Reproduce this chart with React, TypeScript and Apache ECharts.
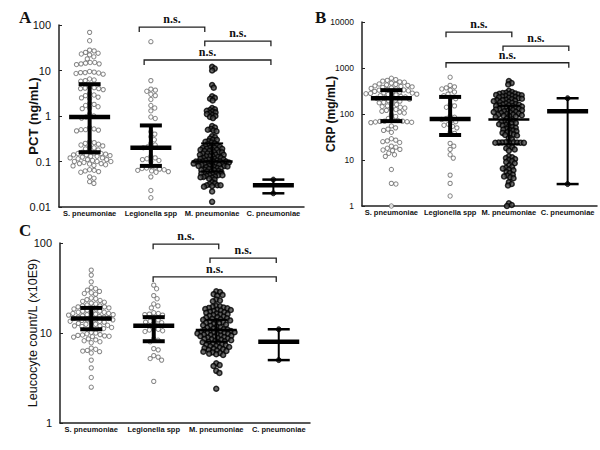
import React, { useEffect, useRef } from 'react';
import * as echarts from 'echarts';

const CATEGORIES = ['S. pneumoniae', 'Legionella spp', 'M. pneumoniae', 'C. pneumoniae'];

// ---------- Panel A: PCT (ng/mL) ----------
const PCT_S = [69, 45, 28, 27, 25, 24, 23, 22, 20, 18, 15, 15, 14.5, 14, 14, 13.5, 9.5, 9.2, 9, 9, 8.8, 8.6, 8.3,
  6.5, 6.2, 6, 5.8, 4.3, 4.2, 4.1, 4, 4, 3.8, 3.1, 2.9, 2.8, 2.6, 2.5, 2.4, 1.9, 1.8, 1.7, 1.6, 1.5, 1.45,
  1.1, 1.0, 0.95, 0.9, 0.56, 0.52, 0.5, 0.5, 0.49, 0.47, 0.27, 0.26, 0.25, 0.24, 0.23, 0.22, 0.21, 0.2, 0.19, 0.18,
  0.165, 0.16, 0.155, 0.15, 0.15, 0.145, 0.14, 0.14, 0.135, 0.13, 0.13, 0.125, 0.12, 0.12, 0.115, 0.11, 0.11,
  0.105, 0.1, 0.1, 0.1, 0.095, 0.09, 0.09, 0.088, 0.085, 0.082, 0.08, 0.066, 0.064, 0.062, 0.06, 0.058,
  0.046, 0.043, 0.036, 0.033];
const PCT_L = [43, 6, 3.9, 3.7, 3.5, 3.0, 2.8, 2.3, 1.7, 1.5, 1.3, 0.95, 0.88, 0.45, 0.4, 0.35, 0.3, 0.25, 0.23,
  0.21, 0.2, 0.13, 0.12, 0.115, 0.11, 0.105, 0.1, 0.078, 0.075, 0.072, 0.07, 0.068, 0.066, 0.064, 0.062, 0.06,
  0.058, 0.046, 0.023, 0.016];
const PCT_M = [12, 11, 10, 4.8, 4.2, 2.7, 2.5, 2.4, 2.2,
  1.5, 1.4, 1.35, 1.3, 1.25, 1.2, 1.15, 1.1, 1.05, 1.0, 0.95, 0.9,
  0.6, 0.56, 0.52, 0.5, 0.48, 0.46, 0.36, 0.34, 0.32, 0.3, 0.3, 0.28, 0.27, 0.26,
  0.25, 0.24, 0.23, 0.22, 0.22, 0.21, 0.2, 0.2, 0.2, 0.19, 0.19, 0.18, 0.18, 0.18, 0.17, 0.17, 0.16, 0.16, 0.16,
  0.15, 0.15, 0.15, 0.14, 0.14, 0.14, 0.13, 0.13, 0.13, 0.125, 0.12,
  0.12, 0.115, 0.115, 0.11, 0.11, 0.11, 0.105, 0.105, 0.1, 0.1, 0.1, 0.1, 0.1, 0.098, 0.095, 0.095, 0.092, 0.09,
  0.09, 0.09, 0.088, 0.085, 0.085, 0.082, 0.08, 0.08, 0.08, 0.078, 0.075, 0.075, 0.072, 0.07, 0.07, 0.068, 0.066,
  0.065, 0.064, 0.062, 0.06, 0.06,
  0.058, 0.056, 0.055, 0.054, 0.052, 0.05, 0.05, 0.05, 0.048, 0.047, 0.046, 0.045, 0.044, 0.042, 0.04,
  0.035, 0.033, 0.032, 0.03, 0.03, 0.03, 0.029, 0.028, 0.022, 0.013];
const PCT_C = [0.04, 0.02];
// median, lower, upper
const PCT_STATS = [[0.95, 0.16, 5.0], [0.2, 0.08, 0.62], [0.1, 0.06, 0.25], [0.03, 0.02, 0.04]];
// from, to (category axis units), y value
const PCT_BRACKETS = [[1.31, 2.38, 90], [2.38, 3.46, 44], [1.39, 3.46, 17]];

// ---------- Panel B: CRP (mg/mL) ----------
const CRP_S = [600, 560, 540, 520, 500, 490, 470, 450, 440, 430, 420, 410,
  400, 390, 380, 370, 360, 350, 340, 335, 330, 320, 310, 300, 295, 290, 285, 280, 275, 270, 265, 260,
  250, 240, 235, 230, 225, 220, 210, 200, 195, 190, 180, 175,
  165, 160, 150, 145, 140, 135, 130, 125, 120, 115, 110, 105,
  95, 88, 80, 74, 72, 70, 70, 69, 68, 67, 66, 65,
  55, 50, 47, 44, 40, 29, 27, 26, 25, 24, 20, 19, 18, 17, 16.5, 16, 14, 13, 12, 6.2, 3.1, 3.0, 1.0];
const CRP_L = [630, 420, 390, 370, 350, 330, 300, 270, 250, 230, 215, 160, 150, 140, 90, 85, 80, 76, 72, 68,
  60, 57, 54, 50, 40, 38, 23, 20, 17, 13, 11, 4.7, 3.1, 1.65];
const CRP_M = [520, 470, 440,
  320, 300, 290, 285, 280, 275, 270, 265, 260, 255, 250, 245, 240, 235, 230,
  225, 220, 215, 210, 205, 200, 200, 195, 190, 185, 180, 175, 170, 165, 160, 158, 155, 152, 150, 148,
  145, 140, 138, 135, 132, 130, 128, 125, 122, 120, 118, 115, 112, 110, 108, 105, 102, 100, 98, 96, 94, 92, 90, 88, 86,
  80, 76, 72, 70, 68, 66, 64, 62, 60, 58, 56, 54, 52, 50, 48, 46, 45, 44, 42, 40, 39, 38, 36, 35, 34,
  30, 28, 24.4, 24.3, 24.2, 24.1, 24, 23.9, 23.8, 23.7, 23.6,
  20, 19, 18, 17, 16, 12, 11.5, 11, 10.5, 10, 9.5, 9, 8.5,
  7.5, 7, 6.8, 6.5, 6.2, 6, 5.5, 5.2, 4.8, 4.6, 4.4, 4.2, 4.0, 3.3, 3.0, 2.8, 1.15, 1.05, 1.0];
const CRP_C = [220, 3];
const CRP_STATS = [[220, 70, 330], [78, 35, 235], [76, 22, 150], [115, 3, 220]];
const CRP_BRACKETS = [[1.43, 2.55, 6000], [2.4, 3.52, 3000], [1.43, 3.52, 1300]];

// ---------- Panel C: Leucocyte count ----------
const WBC_S = [50, 44, 37, 32, 31, 30, 29, 28, 27.5, 27,
  24.5, 24, 23.5, 23, 22.5, 22, 21.5, 21,
  20.5, 20, 20, 19.5, 19.5, 19, 19, 18.5, 18.5, 18,
  17.5, 17.5, 17, 17, 16.8, 16.5, 16.5, 16.2, 16, 16, 15.8, 15.5,
  15.2, 15, 15, 14.8, 14.5, 14.5, 14.2, 14, 14, 13.8, 13.5, 13.5, 13.2, 13,
  12.8, 12.5, 12.5, 12.2, 12, 12, 11.8, 11.5, 11.5, 11.2,
  10.2, 10, 9.8, 9.6, 9.5, 9.4, 9.3, 9.2, 9.1, 9,
  8.6, 8.4, 8.2, 8, 7.8, 6.8, 6.6, 6.4, 6.3, 6.2, 6, 5, 4.1, 3.2, 2.5];
const WBC_L = [34, 31, 26, 24, 21, 20, 19, 16.8, 16.5, 16.2, 16, 15.8, 14.5, 14, 13.5, 13.2, 13, 12.8,
  11.2, 11, 10.8, 10.6, 10.4, 8.6, 8.3, 8, 6.7, 6.5, 5.6, 5.4, 5.2, 5, 2.9];
const WBC_M = [29, 28.5, 27, 26.5, 26, 23.5, 23, 22.5,
  20, 19.8, 19.5, 19.2, 19, 18.8, 18.5, 18.2, 18, 17.8, 17.5, 17.2, 17, 16.8, 16.5, 16.2, 16, 15.8, 15.5, 15.2, 15,
  14.8, 14.6, 14.4, 14.2, 14, 13.8, 13.6, 13.4, 13.2, 13, 12.8, 12.6, 12.4, 12.2, 12, 11.8, 11.6, 11.4, 11.2, 11,
  10.9, 10.8, 10.7, 10.6, 10.5,
  10.4, 10.3, 10.2, 10.1, 10, 10, 9.9, 9.8, 9.7, 9.6, 9.5, 9.4, 9.3, 9.2, 9.1, 9, 8.9, 8.8, 8.7, 8.6, 8.5, 8.4,
  8.3, 8.2, 8.1, 8,
  7.9, 7.8, 7.6, 7.5, 7.4, 7.3, 7.2, 7.1, 7, 6.9, 6.8, 6.7, 6.6, 6.5, 6.4, 6.3, 6.2, 6.1, 6, 5.9, 5.8, 5.7,
  4.6, 4.4, 4.3, 3.8, 3.6, 2.4];
const WBC_C = [11, 5];
const WBC_STATS = [[14.5, 11, 19], [12, 8.1, 15], [10.8, 8, 14], [8, 5, 11]];
const WBC_BRACKETS = [[1.49, 2.54, 97], [2.4, 3.46, 68], [1.49, 3.46, 42]];

const PANELS = [
  { letter: 'A', letterPos: [14, 4], grid: { left: 59, top: 25, width: 245, height: 182 }, yMin: 0.01, yMax: 100,
    name: 'PCT (ng/mL)', nameWeight: 'bold', nameSize: 13, nameGap: 19, labelSize: 11,
    groups: [PCT_S, PCT_L, PCT_M, PCT_C], stats: PCT_STATS, brackets: PCT_BRACKETS, mDiam: 3.1 },
  { letter: 'B', letterPos: [310, 4], grid: { left: 362, top: 22, width: 235, height: 184 }, yMin: 1, yMax: 10000,
    name: 'CRP (mg/mL)', nameWeight: 'bold', nameSize: 12, nameGap: 25, labelSize: 8.5,
    groups: [CRP_S, CRP_L, CRP_M, CRP_C], stats: CRP_STATS, brackets: CRP_BRACKETS, mDiam: 3.4 },
  { letter: 'C', letterPos: [14, 217], grid: { left: 60, top: 243, width: 250, height: 180 }, yMin: 1, yMax: 100,
    name: 'Leucocyte count/L (x10E9)', nameWeight: 'normal', nameSize: 12.5, nameGap: 21, labelSize: 11,
    groups: [WBC_S, WBC_L, WBC_M, WBC_C], stats: WBC_STATS, brackets: WBC_BRACKETS, mDiam: 3.8 },
];

function swarm(values: number[], pxPerDecade: number, bandPx: number, diam: number, center: number) {
  const pts = values.map((v) => ({ v, y: -Math.log10(v) * pxPerDecade, x: 0 }));
  const order = pts.slice().sort((a, b) => a.y - b.y);
  const placed: { v: number; y: number; x: number }[] = [];
  const d2 = diam * diam;
  for (const p of order) {
    const near = placed.filter((q) => Math.abs(q.y - p.y) < diam);
    const cands = [0];
    for (const q of near) {
      const dx = Math.sqrt(d2 - (q.y - p.y) * (q.y - p.y));
      cands.push(q.x + dx, q.x - dx);
    }
    cands.sort((a, b) => Math.abs(a) - Math.abs(b));
    for (const c of cands) {
      if (near.every((q) => (q.x - c) * (q.x - c) + (q.y - p.y) * (q.y - p.y) >= d2 - 0.01)) {
        p.x = c;
        break;
      }
    }
    placed.push(p);
  }
  return pts.map((p) => [center + p.x / bandPx, p.v]);
}

const SANS = '"Liberation Sans", Arial, sans-serif';
const SERIF = '"Liberation Serif", "Times New Roman", serif';

function buildOption() {
  const grids: any[] = [];
  const xAxes: any[] = [];
  const yAxes: any[] = [];
  const series: any[] = [];
  const titles: any[] = [];

  PANELS.forEach((pn, i) => {
    grids.push({ ...pn.grid, containLabel: false });
    titles.push({ text: pn.letter, left: pn.letterPos[0], top: pn.letterPos[1],
      textStyle: { fontFamily: SERIF, fontWeight: 'bold', fontSize: 17, color: '#111' } });
    xAxes.push({
      type: 'category', gridIndex: i, data: CATEGORIES, boundaryGap: true,
      axisLine: { lineStyle: { color: '#222', width: 1.5 } },
      axisTick: { alignWithLabel: true, length: 3, lineStyle: { color: '#222' } },
      axisLabel: { margin: 2, fontFamily: SANS, fontWeight: 'bold', fontSize: 7.5, color: '#111', interval: 0 },
      splitLine: { show: false },
    });
    xAxes.push({ type: 'value', gridIndex: i, min: 0, max: 4, show: false });
    yAxes.push({
      type: 'log', gridIndex: i, logBase: 10, min: pn.yMin, max: pn.yMax,
      name: pn.name, nameLocation: 'middle', nameRotate: 90, nameGap: pn.nameGap,
      nameMoveOverlap: false,
      nameTextStyle: { fontFamily: SANS, fontWeight: pn.nameWeight, fontSize: pn.nameSize, color: '#111' },
      axisLine: { show: true, lineStyle: { color: '#222', width: 1.5 } },
      axisTick: { show: true, inside: true, length: 3, lineStyle: { color: '#222' } },
      minorTick: { show: false },
      splitLine: { show: false },
      axisLabel: { margin: 8, fontFamily: SANS, fontSize: pn.labelSize, color: '#111',
        formatter: (v: number) => String(+Number(v).toPrecision(6)) },
    });

    const pxPerDecade = pn.grid.height / (Math.log10(pn.yMax) - Math.log10(pn.yMin));
    const bandPx = pn.grid.width / 4;
    const xi = 2 * i + 1;

    pn.groups.forEach((vals, g) => {
      const isM = g === 2;
      const isC = g === 3;
      const diam = isM ? pn.mDiam : 4.6;
      series.push({
        type: 'scatter', xAxisIndex: xi, yAxisIndex: i, symbol: 'circle',
        symbolSize: isM ? 5 : isC ? 5 : 4.3,
        data: swarm(vals, pxPerDecade, bandPx, diam, g + 0.5),
        itemStyle: isM ? { color: '#4a4a4a', borderColor: '#000', borderWidth: 1.5 }
          : isC ? { color: '#111', borderColor: '#000', borderWidth: 1 }
          : { color: '#fff', borderColor: '#666', borderWidth: 1 },
        z: 2,
      });
    });

    series.push({
      type: 'custom', xAxisIndex: xi, yAxisIndex: i, z: 5,
      encode: { x: 0, y: 1 },
      data: pn.stats.map((s, g) => [g + 0.5, s[0], s[1], s[2]]),
      renderItem: (params: any, api: any) => {
        const g = params.dataIndex;
        const x = api.value(0);
        const pm = api.coord([x, api.value(1)]);
        const pl = api.coord([x, api.value(2)]);
        const ph = api.coord([x, api.value(3)]);
        const thin = g === 2;
        const vW = thin ? 2 : g === 3 ? 2 : 4;
        const capW = thin ? 2 : g === 3 ? 2.5 : 4;
        const medW = thin ? 2.5 : 4.5;
        const medHalf = 20.5;
        const capHalf = 11;
        const st = (w: number) => ({ stroke: '#000', lineWidth: w });
        return {
          type: 'group',
          children: [
            { type: 'line', shape: { x1: pm[0], y1: ph[1], x2: pm[0], y2: pl[1] }, style: st(vW) },
            { type: 'line', shape: { x1: pm[0] - capHalf, y1: ph[1], x2: pm[0] + capHalf, y2: ph[1] }, style: st(capW) },
            { type: 'line', shape: { x1: pm[0] - capHalf, y1: pl[1], x2: pm[0] + capHalf, y2: pl[1] }, style: st(capW) },
            { type: 'line', shape: { x1: pm[0] - medHalf, y1: pm[1], x2: pm[0] + medHalf, y2: pm[1] }, style: st(medW) },
          ],
        };
      },
    });

    series.push({
      type: 'custom', xAxisIndex: xi, yAxisIndex: i, z: 6, clip: false,
      encode: { x: [0, 1], y: 2 },
      data: pn.brackets,
      renderItem: (params: any, api: any) => {
        const p1 = api.coord([api.value(0), api.value(2)]);
        const p2 = api.coord([api.value(1), api.value(2)]);
        return {
          type: 'group',
          children: [
            { type: 'polyline', shape: { points: [[p1[0], p1[1] + 5], p1, p2, [p2[0], p2[1] + 5]] },
              style: { stroke: '#222', lineWidth: 1.3, fill: null } },
            { type: 'text', x: (p1[0] + p2[0]) / 2, y: p1[1] - 2,
              style: { text: 'n.s.', fill: '#111', font: `bold 12px ${SERIF}`,
                textAlign: 'center', textVerticalAlign: 'bottom', align: 'center', verticalAlign: 'bottom' } },
          ],
        };
      },
    });
  });

  return {
    animation: false,
    backgroundColor: '#fff',
    title: titles,
    grid: grids,
    xAxis: xAxes,
    yAxis: yAxes,
    series,
  };
}

export default function App() {
  const ref = useRef<HTMLDivElement>(null);
  useEffect(() => {
    if (!ref.current) return;
    const chart = echarts.init(ref.current, undefined, { renderer: 'svg' });
    chart.setOption(buildOption());
    return () => chart.dispose();
  }, []);
  return <div ref={ref} style={{ position: 'absolute', left: 0, top: 0, width: 600, height: 450, background: '#fff' }} />;
}
